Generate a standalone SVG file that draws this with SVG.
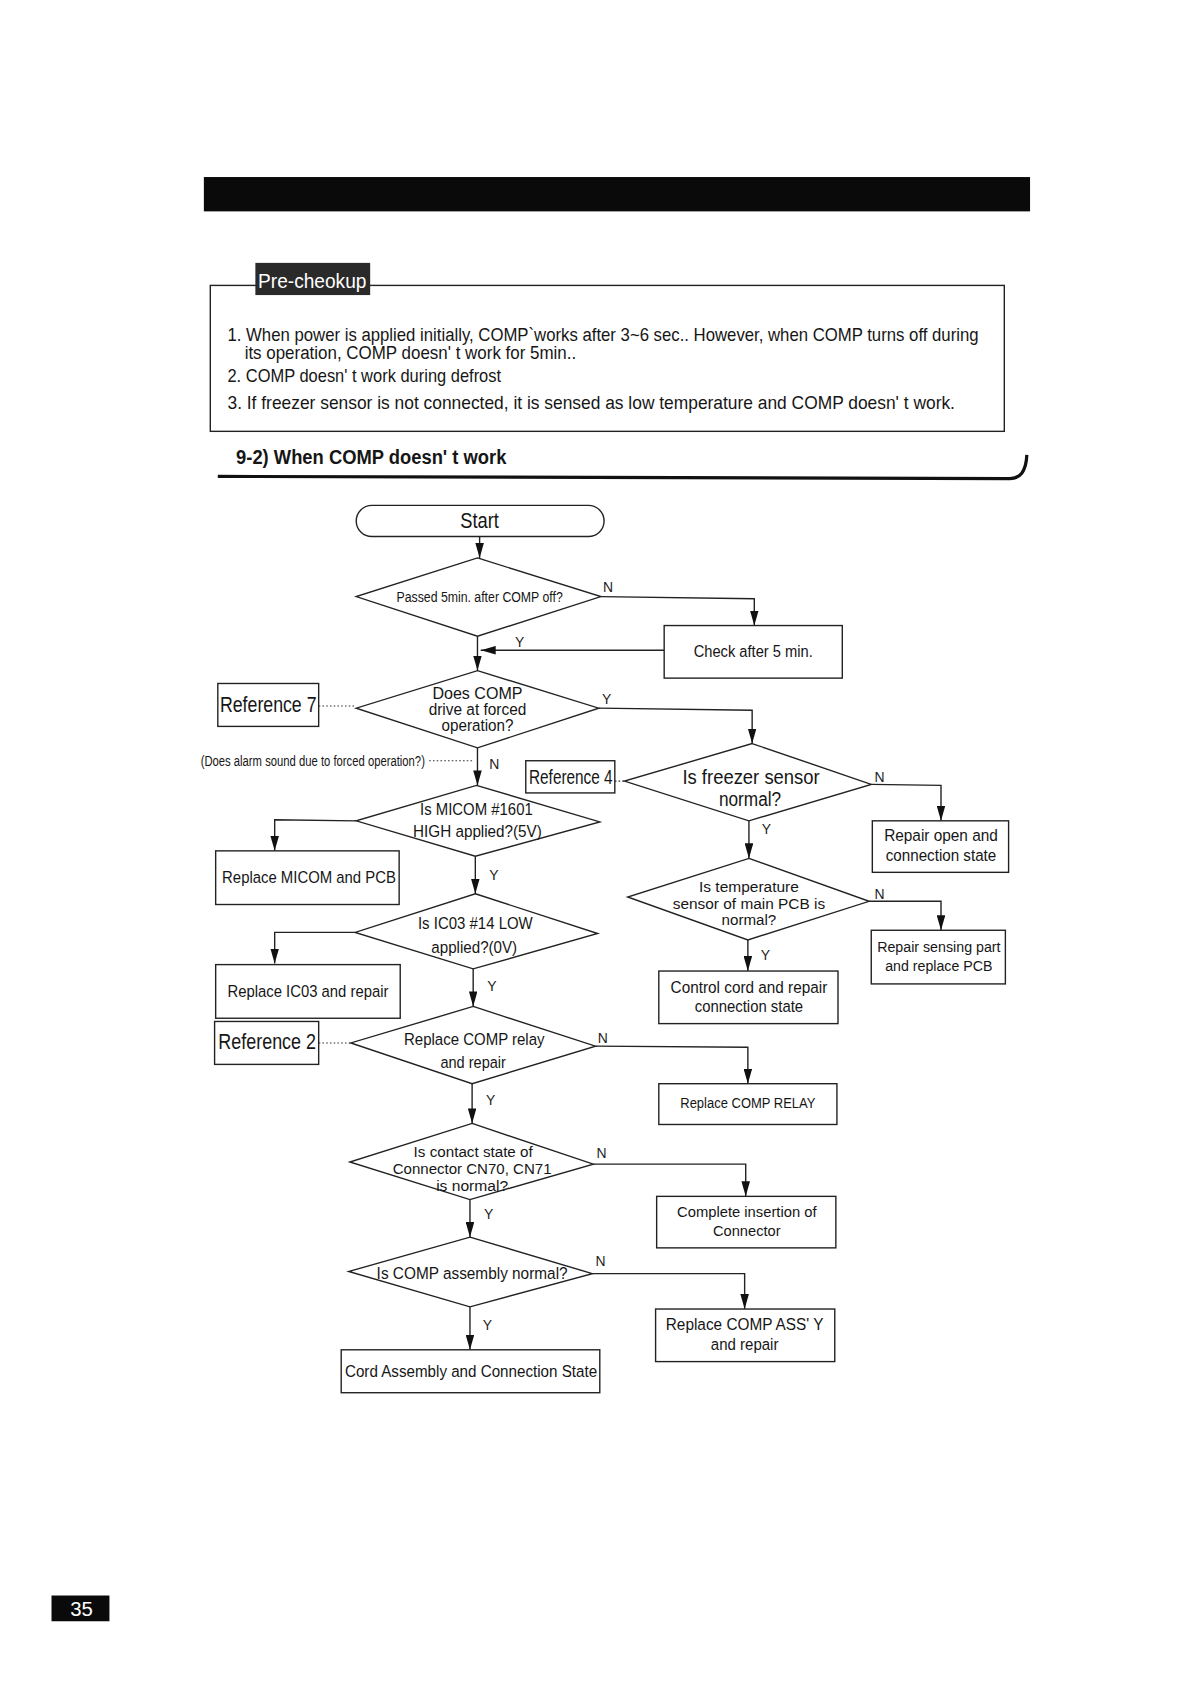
<svg xmlns="http://www.w3.org/2000/svg" width="1191" height="1683" viewBox="0 0 1191 1683">
<defs>
<style>
.t{font-family:"Liberation Sans",Arial,sans-serif;fill:#161616}
.c{text-anchor:middle}
.yn{font-family:"Liberation Sans",Arial,sans-serif;font-size:13px;fill:#222}
.sh{fill:#fff;stroke:#222;stroke-width:1.3}
.ln{fill:none;stroke:#222;stroke-width:1.3}
.ar{fill:none;stroke:#222;stroke-width:1.3;marker-end:url(#ah)}
.dot{fill:none;stroke:#333;stroke-width:1;stroke-dasharray:1.5 2}
</style>
<marker id="ah" viewBox="0 0 10 10" refX="10" refY="5" markerWidth="14" markerHeight="8" preserveAspectRatio="none" orient="auto" markerUnits="userSpaceOnUse">
<path d="M0,0 L10,5 L0,10 z" fill="#111"/>
</marker>
</defs>
<rect width="1191" height="1683" fill="#fff"/>
<g transform="scale(1.072973)">
<g id="header">
<rect x="190" y="165" width="770" height="32" fill="#0a0a0a"/>
</g>
<g id="precheck">
<rect x="196" y="266" width="740" height="136" fill="none" stroke="#222" stroke-width="1.3"/>
<rect x="238" y="245" width="107" height="30" fill="#2a2a2a"/>
<text class="t c" x="291" y="268" font-size="19" fill="#fff" style="fill:#fff" textLength="101" lengthAdjust="spacingAndGlyphs">Pre-cheokup</text>
<text class="t" x="212" y="318" font-size="17" textLength="700" lengthAdjust="spacingAndGlyphs">1. When power is applied  initially, COMP`works after  3~6 sec.. However, when COMP turns off during</text>
<text class="t" x="228" y="335" font-size="17" textLength="309" lengthAdjust="spacingAndGlyphs">its operation,  COMP doesn' t work for 5min..</text>
<text class="t" x="212" y="356" font-size="17" textLength="255" lengthAdjust="spacingAndGlyphs">2. COMP doesn' t work during defrost</text>
<text class="t" x="212" y="381" font-size="17" textLength="678" lengthAdjust="spacingAndGlyphs">3. If  freezer  sensor is  not connected,  it is  sensed as  low temperature  and  COMP doesn' t work.</text>
</g>
<g id="title">
<text class="t" x="220" y="432" font-size="19" font-weight="bold" textLength="252" lengthAdjust="spacingAndGlyphs">9-2) When  COMP doesn' t work</text>
<path d="M203,444 L940,446 Q956,447 957,424" fill="none" stroke="#111" stroke-width="3"/>
</g>
<g id="connectors">
<path class="ar" d="M447,500 V520"/>
<path class="ar" d="M560,556 L703,558 V583"/>
<path class="ar" d="M619,606 H448"/>
<path class="ar" d="M445,593 V625"/>
<path class="dot" d="M297,658 H332"/>
<path class="ar" d="M558,660 L701,662 V693"/>
<path class="dot" d="M400,709 H440"/>
<path class="ar" d="M445,697 V732"/>
<path class="ar" d="M332,765 L256,764 V793"/>
<path class="ar" d="M443,798 V833"/>
<path class="ar" d="M331,869 L256,869 V898"/>
<path class="ar" d="M441,903 V938"/>
<path class="dot" d="M297,972 H327"/>
<path class="ar" d="M555,975 L697,976 V1010"/>
<path class="ar" d="M440,1010 V1047"/>
<path class="ar" d="M553,1085 L695,1085 V1115"/>
<path class="ar" d="M438,1118 V1153"/>
<path class="ar" d="M552,1187 L694,1187 V1220"/>
<path class="ar" d="M438,1218 V1258"/>
<path class="dot" d="M573,728 H582"/>
<path class="ar" d="M812,731 L877,732 V765"/>
<path class="ar" d="M698,765 V800"/>
<path class="ar" d="M810,840 L877,840 V867"/>
<path class="ar" d="M697,876 V905"/>
<text class="yn" x="562" y="552">N</text>
<text class="yn" x="480" y="603">Y</text>
<text class="yn" x="561" y="656">Y</text>
<text class="yn" x="456" y="717">N</text>
<text class="yn" x="456" y="820">Y</text>
<text class="yn" x="454" y="924">Y</text>
<text class="yn" x="557" y="972">N</text>
<text class="yn" x="453" y="1030">Y</text>
<text class="yn" x="556" y="1079">N</text>
<text class="yn" x="451" y="1136">Y</text>
<text class="yn" x="555" y="1180">N</text>
<text class="yn" x="450" y="1240">Y</text>
<text class="yn" x="815" y="729">N</text>
<text class="yn" x="710" y="777">Y</text>
<text class="yn" x="815" y="838">N</text>
<text class="yn" x="709" y="895">Y</text>
</g>
<g id="start">
<rect class="sh" x="332" y="471" width="231" height="29" rx="14.5"/>
<text class="t c" x="447" y="492" font-size="20" textLength="36" lengthAdjust="spacingAndGlyphs">Start</text>
</g>
<g id="d-passed">
<polygon class="sh" points="445,520 560,556 445,593 332,556"/>
<text class="t c" x="447" y="561" font-size="14" textLength="155" lengthAdjust="spacingAndGlyphs">Passed 5min. after COMP off?</text>
</g>
<g id="b-check">
<rect class="sh" x="619" y="583" width="166" height="49"/>
<text class="t c" x="702" y="612" font-size="15" textLength="111" lengthAdjust="spacingAndGlyphs">Check after 5 min.</text>
</g>
<g id="d-forced">
<polygon class="sh" points="445,625 558,660 445,697 332,660"/>
<text class="t c" x="445" y="651" font-size="15" textLength="84" lengthAdjust="spacingAndGlyphs">Does  COMP</text>
<text class="t c" x="445" y="666" font-size="15" textLength="91" lengthAdjust="spacingAndGlyphs">drive at forced</text>
<text class="t c" x="445" y="681" font-size="15" textLength="67" lengthAdjust="spacingAndGlyphs">operation?</text>
</g>
<g id="ref7">
<rect class="sh" x="203" y="637" width="94" height="40"/>
<text class="t c" x="250" y="664" font-size="20" textLength="90" lengthAdjust="spacingAndGlyphs">Reference 7</text>
</g>
<g id="alarm-note">
<text class="t" x="187" y="714" font-size="13" textLength="209" lengthAdjust="spacingAndGlyphs">(Does alarm sound due to forced operation?)</text>
</g>
<g id="d-micom">
<polygon class="sh" points="444,732 559,766 443,798 332,765"/>
<text class="t c" x="444" y="760" font-size="15" textLength="105" lengthAdjust="spacingAndGlyphs">Is MICOM #1601</text>
<text class="t c" x="445" y="780" font-size="15" textLength="120" lengthAdjust="spacingAndGlyphs">HIGH applied?(5V)</text>
</g>
<g id="b-micom">
<rect class="sh" x="201" y="793" width="171" height="50"/>
<text class="t c" x="288" y="823" font-size="15" textLength="162" lengthAdjust="spacingAndGlyphs">Replace MICOM and PCB</text>
</g>
<g id="d-ic03">
<polygon class="sh" points="443,833 557,870 441,903 331,869"/>
<text class="t c" x="443" y="866" font-size="15" textLength="107" lengthAdjust="spacingAndGlyphs">Is IC03 #14 LOW</text>
<text class="t c" x="442" y="888" font-size="15" textLength="80" lengthAdjust="spacingAndGlyphs">applied?(0V)</text>
</g>
<g id="b-ic03">
<rect class="sh" x="201" y="899" width="172" height="50"/>
<text class="t c" x="287" y="929" font-size="15" textLength="150" lengthAdjust="spacingAndGlyphs">Replace IC03 and repair</text>
</g>
<g id="ref2">
<rect class="sh" x="200" y="952" width="97" height="40"/>
<text class="t c" x="249" y="978" font-size="20" textLength="91" lengthAdjust="spacingAndGlyphs">Reference 2</text>
</g>
<g id="d-relay">
<polygon class="sh" points="441,938 555,975 440,1010 327,972"/>
<text class="t c" x="442" y="974" font-size="15" textLength="131" lengthAdjust="spacingAndGlyphs">Replace COMP relay</text>
<text class="t c" x="441" y="995" font-size="15" textLength="61" lengthAdjust="spacingAndGlyphs">and repair</text>
</g>
<g id="b-relay">
<rect class="sh" x="614" y="1010" width="166" height="38"/>
<text class="t c" x="697" y="1033" font-size="14" textLength="126" lengthAdjust="spacingAndGlyphs">Replace COMP RELAY</text>
</g>
<g id="d-cn70">
<polygon class="sh" points="440,1047 553,1085 438,1118 326,1083"/>
<text class="t c" x="441" y="1078" font-size="14" textLength="111" lengthAdjust="spacingAndGlyphs">Is contact state of</text>
<text class="t c" x="440" y="1094" font-size="14" textLength="148" lengthAdjust="spacingAndGlyphs">Connector CN70, CN71</text>
<text class="t c" x="440" y="1110" font-size="14" textLength="67" lengthAdjust="spacingAndGlyphs">is normal?</text>
</g>
<g id="b-conn">
<rect class="sh" x="612" y="1115" width="167" height="48"/>
<text class="t c" x="696" y="1134" font-size="14" textLength="130" lengthAdjust="spacingAndGlyphs">Complete insertion of</text>
<text class="t c" x="696" y="1152" font-size="14" textLength="63" lengthAdjust="spacingAndGlyphs">Connector</text>
</g>
<g id="d-assy">
<polygon class="sh" points="438,1153 552,1187 438,1218 325,1185"/>
<text class="t c" x="440" y="1192" font-size="15" textLength="178" lengthAdjust="spacingAndGlyphs">Is  COMP assembly normal?</text>
</g>
<g id="b-assy">
<rect class="sh" x="611" y="1220" width="167" height="49"/>
<text class="t c" x="694" y="1240" font-size="15" textLength="147" lengthAdjust="spacingAndGlyphs">Replace  COMP ASS' Y</text>
<text class="t c" x="694" y="1258" font-size="15" textLength="63" lengthAdjust="spacingAndGlyphs">and repair</text>
</g>
<g id="b-cord">
<rect class="sh" x="318" y="1258" width="241" height="40"/>
<text class="t c" x="439" y="1283" font-size="15" textLength="235" lengthAdjust="spacingAndGlyphs">Cord Assembly and Connection State</text>
</g>
<g id="ref4">
<rect class="sh" x="490" y="709" width="83" height="30"/>
<text class="t c" x="532" y="731" font-size="18" textLength="78" lengthAdjust="spacingAndGlyphs">Reference 4</text>
</g>
<g id="d-freezer">
<polygon class="sh" points="701,693 812,731 698,765 582,728"/>
<text class="t c" x="700" y="731" font-size="19" textLength="128" lengthAdjust="spacingAndGlyphs">Is  freezer sensor</text>
<text class="t c" x="699" y="751" font-size="19" textLength="58" lengthAdjust="spacingAndGlyphs">normal?</text>
</g>
<g id="b-open">
<rect class="sh" x="813" y="765" width="127" height="48"/>
<text class="t c" x="877" y="784" font-size="15" textLength="106" lengthAdjust="spacingAndGlyphs">Repair open and</text>
<text class="t c" x="877" y="802" font-size="15" textLength="103" lengthAdjust="spacingAndGlyphs">connection state</text>
</g>
<g id="d-temp">
<polygon class="sh" points="698,800 810,840 697,876 585,836"/>
<text class="t c" x="698" y="831" font-size="14" textLength="93" lengthAdjust="spacingAndGlyphs">Is  temperature</text>
<text class="t c" x="698" y="847" font-size="14" textLength="142" lengthAdjust="spacingAndGlyphs">sensor of  main PCB is</text>
<text class="t c" x="698" y="862" font-size="14" textLength="51" lengthAdjust="spacingAndGlyphs">normal?</text>
</g>
<g id="b-sensing">
<rect class="sh" x="812" y="867" width="125" height="50"/>
<text class="t c" x="875" y="887" font-size="14" textLength="115" lengthAdjust="spacingAndGlyphs">Repair sensing part</text>
<text class="t c" x="875" y="905" font-size="14" textLength="100" lengthAdjust="spacingAndGlyphs">and replace PCB</text>
</g>
<g id="b-control">
<rect class="sh" x="614" y="905" width="167" height="49"/>
<text class="t c" x="698" y="925" font-size="15" textLength="146" lengthAdjust="spacingAndGlyphs">Control  cord and repair</text>
<text class="t c" x="698" y="943" font-size="15" textLength="101" lengthAdjust="spacingAndGlyphs">connection state</text>
</g>
<g id="page-number">
<rect x="48" y="1487" width="54" height="24" fill="#0a0a0a"/>
<text class="t c" x="76" y="1506" font-size="19" style="fill:#fff">35</text>
</g>
</g>
</svg>
